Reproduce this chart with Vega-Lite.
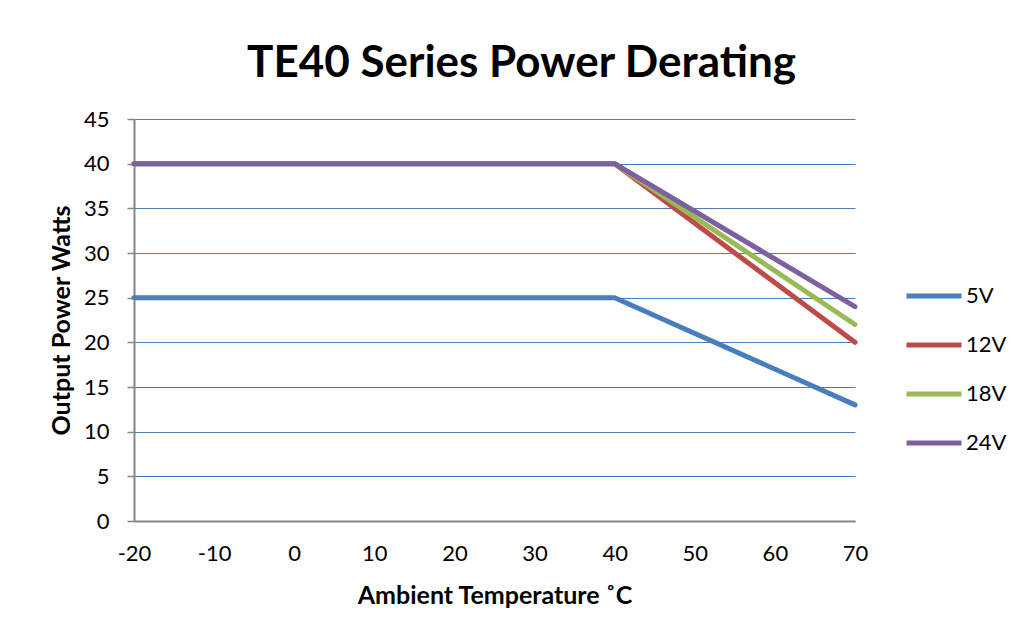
{
  "$schema": "https://vega.github.io/schema/vega-lite/v6.json",
  "width": 721,
  "height": 402,
  "autosize": "none",
  "padding": {"left": 134, "top": 119, "right": 169, "bottom": 118},
  "background": "white",
  "config": {
    "font": "Lato",
    "view": {"stroke": null}
  },
  "title": {
    "text": "TE40 Series Power Derating",
    "font": "Lato",
    "fontSize": 44,
    "fontWeight": "bold",
    "color": "#000000",
    "anchor": "middle",
    "baseline": "alphabetic",
    "dx": 27,
    "offset": -13
  },
  "data": {
    "values": [
      {"temp": -20, "power": 25, "series": "5V"},
      {"temp": 40, "power": 25, "series": "5V"},
      {"temp": 70, "power": 13, "series": "5V"},
      {"temp": -20, "power": 40, "series": "12V"},
      {"temp": 40, "power": 40, "series": "12V"},
      {"temp": 70, "power": 20, "series": "12V"},
      {"temp": -20, "power": 40, "series": "18V"},
      {"temp": 40, "power": 40, "series": "18V"},
      {"temp": 70, "power": 22, "series": "18V"},
      {"temp": -20, "power": 40, "series": "24V"},
      {"temp": 40, "power": 40, "series": "24V"},
      {"temp": 70, "power": 24, "series": "24V"}
    ]
  },
  "mark": {"type": "line", "strokeWidth": 5, "strokeCap": "round", "strokeJoin": "round"},
  "encoding": {
    "x": {
      "field": "temp",
      "type": "quantitative",
      "scale": {"domain": [-20, 70], "nice": false},
      "axis": {
        "title": "Ambient Temperature ˚C",
        "titleFont": "Lato",
        "titleFontSize": 25,
        "titleFontWeight": "bold",
        "titleColor": "#000000",
        "titlePadding": 19,
        "values": [-20, -10, 0, 10, 20, 30, 40, 50, 60, 70],
        "labelExpr": "toString(datum.value)",
        "labelFontSize": 22,
        "labelColor": "#000000",
        "labelPadding": 22,
        "ticks": false,
        "grid": false,
        "domainColor": "#868686",
        "domainWidth": 2,
        "labelFlush": false
      }
    },
    "y": {
      "field": "power",
      "type": "quantitative",
      "scale": {"domain": [0, 45], "nice": false},
      "axis": {
        "title": "Output Power Watts",
        "titleFont": "Lato",
        "titleFontSize": 25,
        "titleFontWeight": "bold",
        "titleColor": "#000000",
        "titlePadding": 9,
        "values": [0, 5, 10, 15, 20, 25, 30, 35, 40, 45],
        "labelFontSize": 22,
        "labelColor": "#000000",
        "labelPadding": 18,
        "tickSize": 7,
        "tickColor": "#868686",
        "tickWidth": 1.5,
        "grid": true,
        "gridColor": "#4A7EBB",
        "gridWidth": 1.2,
        "domainColor": "#868686",
        "domainWidth": 2,
        "labelFlush": false
      }
    },
    "color": {
      "field": "series",
      "type": "nominal",
      "sort": ["5V", "12V", "18V", "24V"],
      "scale": {
        "domain": ["5V", "12V", "18V", "24V"],
        "range": ["#4A7EBB", "#BE4B48", "#98B954", "#7D60A0"]
      },
      "legend": {
        "title": null,
        "orient": "none",
        "legendX": 770,
        "legendY": 147,
        "symbolType": "stroke",
        "symbolSize": 3025,
        "symbolStrokeWidth": 5,
        "labelFontSize": 22,
        "labelColor": "#000000",
        "labelOffset": 2,
        "rowPadding": 8
      }
    }
  }
}
